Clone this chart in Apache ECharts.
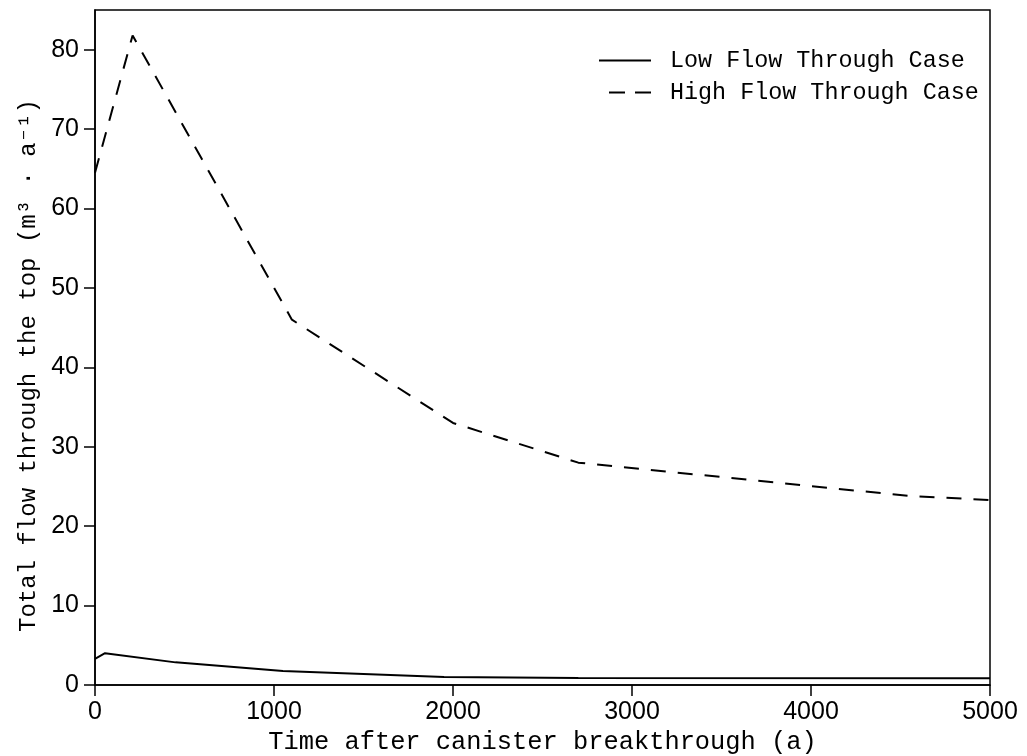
<!DOCTYPE html>
<html><head><meta charset="utf-8">
<script src="https://cdn.jsdelivr.net/npm/echarts@6/dist/echarts.min.js"></script>
<style>html,body{margin:0;padding:0;background:#fff}#c{width:1027px;height:756px}</style>
</head><body><div id="c"></div>
<script>
const lowFlowTime = [0, 56, 450, 1050, 1950, 2700, 5000];
const lowFlowValue = [3.3, 4.0, 2.85, 1.75, 1.0, 0.87, 0.85];
const highFlowTime = [0, 210, 1100, 2000, 2700, 4550, 5000];
const highFlowValue = [64.5, 81.8, 46.0, 33.0, 28.0, 23.8, 23.3];
const xTicks = [0, 1000, 2000, 3000, 4000, 5000];
const yTicks = [0, 10, 20, 30, 40, 50, 60, 70, 80];
const seriesNames = ['Low Flow Through Case', 'High Flow Through Case'];

const pairs = (xs, ys) => xs.map((x, i) => [x, ys[i]]);
const mono = 'Liberation Mono, DejaVu Sans Mono, monospace';
const sans = 'Liberation Sans, Arial, sans-serif';

const chart = echarts.init(document.getElementById('c'));
chart.setOption({
  animation: false,
  backgroundColor: '#fff',
  grid: { left: 95, right: 37, top: 10, bottom: 71, containLabel: false, outerBoundsMode: 'none',
          show: true, borderColor: '#000', borderWidth: 1.5 },
  legend: {
    orient: 'vertical', left: 598, top: 49, padding: 0, itemWidth: 52, itemHeight: 14, itemGap: 9,
    textStyle: { fontFamily: mono, fontSize: 23.4, color: '#000', padding: [0, 0, 0, 14] },
    data: [
      { name: seriesNames[0], itemStyle: { opacity: 0 }, lineStyle: { color: '#000', width: 2, type: 'solid' } },
      { name: seriesNames[1], itemStyle: { opacity: 0 }, lineStyle: { color: '#000', width: 2, type: [16, 10], dashOffset: 16 } }
    ]
  },
  xAxis: {
    type: 'value', min: 0, max: 5000, interval: 1000,
    name: 'Time after canister breakthrough (a)', nameLocation: 'middle', nameGap: 42,
    nameTextStyle: { fontFamily: mono, fontSize: 25.4, color: '#000' },
    axisLine: { show: true, onZero: false, lineStyle: { color: '#000', width: 1.5 } },
    axisTick: { show: true, length: 11, inside: false, lineStyle: { color: '#000', width: 1.5 }, customValues: xTicks },
    axisLabel: { fontFamily: sans, fontSize: 25, color: '#000', margin: 15, customValues: xTicks, formatter: v => String(v) },
    splitLine: { show: false }
  },
  yAxis: {
    type: 'value', min: 0, max: 85, interval: 10,
    name: 'Total flow through the top (m³ · a⁻¹)', nameLocation: 'middle', nameGap: 53,
    nameTextStyle: { fontFamily: mono, fontSize: 24, color: '#000', padding: [0, 36, 0, 0] },
    axisLine: { show: true, lineStyle: { color: '#000', width: 1.5 } },
    axisTick: { show: true, length: 11, inside: false, lineStyle: { color: '#000', width: 1.5 }, customValues: yTicks },
    axisLabel: { fontFamily: sans, fontSize: 25, color: '#000', margin: 16, customValues: yTicks, formatter: v => String(v) },
    splitLine: { show: false }
  },
  series: [
    { name: seriesNames[0], type: 'line', data: pairs(lowFlowTime, lowFlowValue), showSymbol: false, symbol: 'none',
      lineStyle: { color: '#000', width: 2, type: 'solid' }, itemStyle: { color: '#000' } },
    { name: seriesNames[1], type: 'line', data: pairs(highFlowTime, highFlowValue), showSymbol: false, symbol: 'none',
      lineStyle: { color: '#000', width: 2, type: [15, 12] }, itemStyle: { color: '#000' } }
  ]
});
</script></body></html>
